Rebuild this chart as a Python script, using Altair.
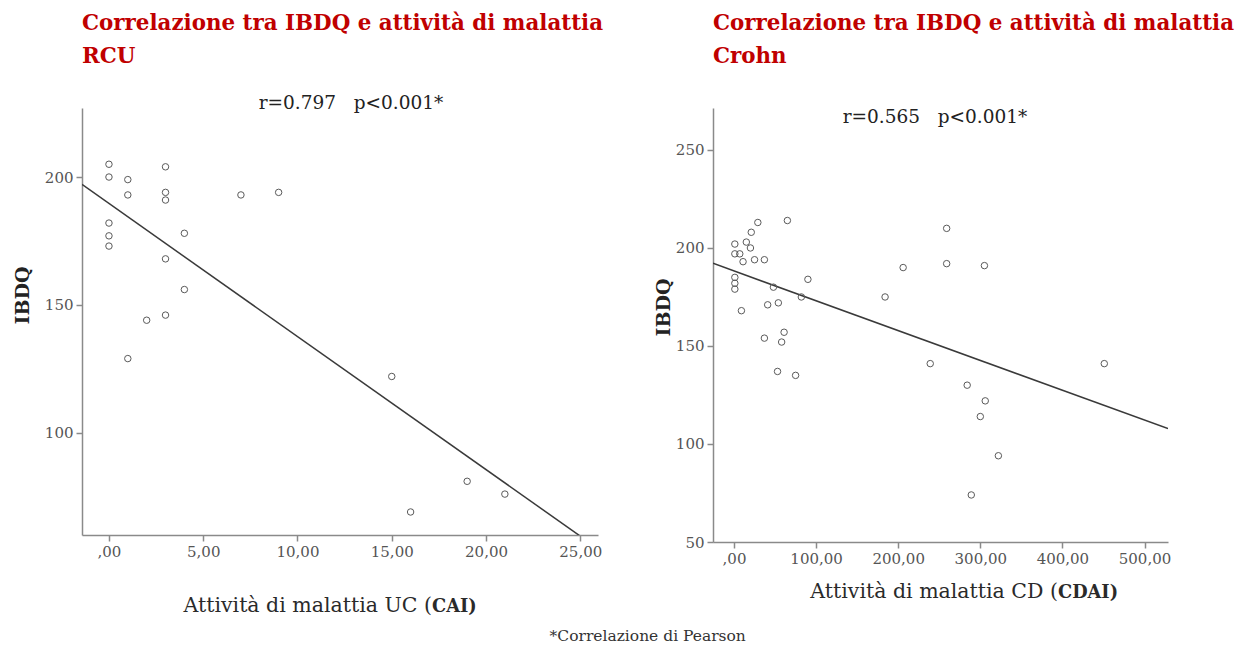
import altair as alt
import pandas as pd

# ---- data ----
uc_cai = [0, 0, 1, 3, 1, 3, 3, 7, 9, 0, 0, 0, 4, 3, 4, 2, 3, 1, 15, 16, 19, 21]
uc_ibdq = [205, 200, 199, 204, 193, 194, 191, 193, 194, 182, 177, 173, 178, 168, 156, 144, 146, 129, 122, 69, 81, 76]

cd_cdai = [29, 65, 21, 1, 15, 20, 1, 7, 11, 25, 37, 1, 1, 1, 90, 48, 82, 9, 41, 54, 61, 37, 58, 53, 75,
           259, 206, 259, 305, 184, 239, 451, 284, 306, 300, 322, 289]
cd_ibdq = [213, 214, 208, 202, 203, 200, 197, 197, 193, 194, 194, 185, 182, 179, 184, 180, 175, 168, 171, 172,
           157, 154, 152, 137, 135, 210, 190, 192, 191, 175, 141, 141, 130, 122, 114, 94, 74]

uc_x_ticks = [0, 5, 10, 15, 20, 25]
uc_y_ticks = [100, 150, 200]
cd_x_ticks = [0, 100, 200, 300, 400, 500]
cd_y_ticks = [50, 100, 150, 200, 250]

uc_x_domain = [-1.43, 25.94]
uc_y_domain = [60, 227]
cd_x_domain = [-25.6, 528.6]
cd_y_domain = [50, 271.4]

uc_title = ["Correlazione tra IBDQ e attività di malattia", "RCU"]
cd_title = ["Correlazione tra IBDQ e attività di malattia", "Crohn"]
NB = "\u00a0"
uc_annot = "r=0.797" + NB * 3 + "p<0.001*"
cd_annot = "r=0.565" + NB * 3 + "p<0.001*"
uc_xlabel = ["Attività di malattia UC (", "CAI)"]
cd_xlabel = ["Attività di malattia CD (", "CDAI)"]
footnote = "*Correlazione di Pearson"

FONT = "DejaVu Serif"
RED = "#c00000"
LABEL_EXPR = "datum.value == 0 ? ',00' : replace(format(datum.value, '.2f'), '.', ',')"


def txt(s, x, y, size, weight="normal", color="#222222", align="center", baseline="middle"):
    return alt.Chart(pd.DataFrame({"t": [s]})).mark_text(
        font=FONT, fontSize=size, fontWeight=weight, color=color, align=align,
        baseline=baseline).encode(x=alt.value(x), y=alt.value(y), text="t:N")


def panel(xs, ys, xdom, ydom, xticks, yticks, w, h, title, annot, ax, ay,
          xlabel, px, py, ytitle_y, ytitle_pad):
    df = pd.DataFrame({"x": xs, "y": ys})
    xenc = alt.X("x:Q", scale=alt.Scale(domain=xdom, nice=False, zero=False),
                 axis=alt.Axis(values=xticks, labelExpr=LABEL_EXPR, grid=False),
                 title=None)
    yenc = alt.Y("y:Q", scale=alt.Scale(domain=ydom, nice=False, zero=False),
                 axis=alt.Axis(values=yticks, format="d", grid=False,
                               titlePadding=ytitle_pad, titleY=ytitle_y),
                 title="IBDQ")
    base = alt.Chart(df)
    line = base.transform_regression("x", "y", extent=xdom).mark_line(
        color="#3a3a3a", strokeWidth=1.5, clip=True).encode(x=xenc, y=yenc)
    pts = base.mark_point(shape="circle", filled=False, size=42, color="#5a5a5a",
                          strokeWidth=1, opacity=1).encode(x=xenc, y=yenc)
    layers = [
        line, pts,
        txt(title[0], 0, -78, 21.4, "bold", RED, "left", "alphabetic"),
        txt(title[1], 0, -45, 21.4, "bold", RED, "left", "alphabetic"),
        txt(annot, ax, ay, 18.5),
        txt(xlabel[0], px, py, 20.5, "normal", "#2a2a2a", "right", "alphabetic"),
        txt(xlabel[1], px, py, 17.8, "bold", "#2a2a2a", "left", "alphabetic"),
    ]
    return alt.layer(*layers).properties(width=w, height=h)


left = panel(uc_cai, uc_ibdq, uc_x_domain, uc_y_domain, uc_x_ticks, uc_y_ticks,
             516, 427, uc_title, uc_annot, 269, -5, uc_xlabel, 350, 504, 187, 12)
right = panel(cd_cdai, cd_ibdq, cd_x_domain, cd_y_domain, cd_x_ticks, cd_y_ticks,
              455, 434, cd_title, cd_annot, 222, 9, cd_xlabel, 345, 490, 199, 2)

chart = alt.hconcat(left, right, spacing=50).properties(
    title=alt.TitleParams(text=footnote, orient="bottom", anchor="middle", font=FONT,
                          fontSize=15.5, fontWeight="normal", color="#333333", dx=24, offset=12)
).configure_view(stroke=None).configure_axis(
    domainColor="#8a8a8a", domainWidth=1.5, tickColor="#8a8a8a", tickWidth=1.5, tickSize=6,
    labelFont=FONT, labelFontSize=15, labelColor="#555555", labelPadding=3,
    titleFont=FONT, titleFontSize=19, titleFontWeight="bold", titleColor="#222222"
)

chart.save("out.html", embed_options={"renderer": "svg", "actions": False})
